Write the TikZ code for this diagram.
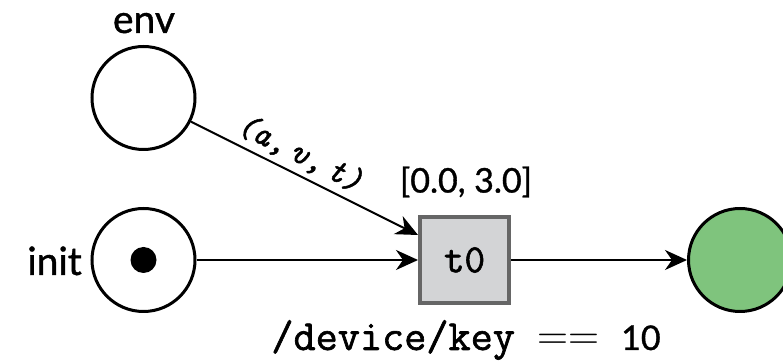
\documentclass[tikz,border=0pt]{standalone}
\usepackage{fontspec}
\setsansfont{Lato}[FakeBold=1]
\setmonofont{Latin Modern Mono}[FakeBold=1.5]
\usetikzlibrary{arrows.meta}
\definecolor{placegreen}{HTML}{7FC47D}
\definecolor{transfill}{HTML}{D3D4D6}
\definecolor{transdraw}{HTML}{666666}
\begin{document}
\begin{tikzpicture}[x=1pt,y=1pt,
  place/.style={circle, draw=black, line width=3pt, minimum size=103pt, inner sep=0pt},
  trans/.style={rectangle, draw=transdraw, fill=transfill, line width=4pt,
    minimum width=89pt, minimum height=86pt, inner sep=0pt,
    font=\fontsize{40}{40}\selectfont\ttfamily},
  token/.style={circle, fill=black, minimum size=26pt, inner sep=0pt},
  lbl/.style={font=\fontsize{39}{39}\selectfont\sffamily, inner sep=0pt},
  arc/.style={line width=2pt, -{Stealth[length=22pt,width=20pt,inset=7pt]}}
]
\useasboundingbox (0,0) rectangle (783,363);
\node[place] (env) at (143.5,265) {};
\node[place] (init) at (143.5,103) {};
\node[token] (tok) at (init.center) {};
\node[trans] (t0) at (464.5,103) {t0};
\node[place, fill=placegreen] (out) at (740,103) {};
\node[lbl, anchor=base] (envl) at (144,330) {env};
\node[lbl, anchor=base east] (initl) at (82,88) {init};
\coordinate (tin) at ([yshift=-20pt]t0.north west);
\draw[arc] (env) -- (tin)
  node[pos=0.44, sloped, above=5pt, inner sep=0pt,
       font=\fontsize{34}{34}\selectfont\ttfamily\slshape] (lab) {(a,\,v,\,t)};
\draw[arc] (init) -- (t0);
\draw[arc] (t0) -- (out);
\node[lbl, font=\fontsize{34}{34}\selectfont\sffamily] (time) at (466,181) {[0.0, 3.0]};
\node[anchor=base, inner sep=0pt] (guard) at (466,13)
  {\fontsize{43}{43}\selectfont\ttfamily /device/key {\rmfamily ==} {\fontsize{34}{34}\selectfont\sffamily 10}};
\end{tikzpicture}
\end{document}
